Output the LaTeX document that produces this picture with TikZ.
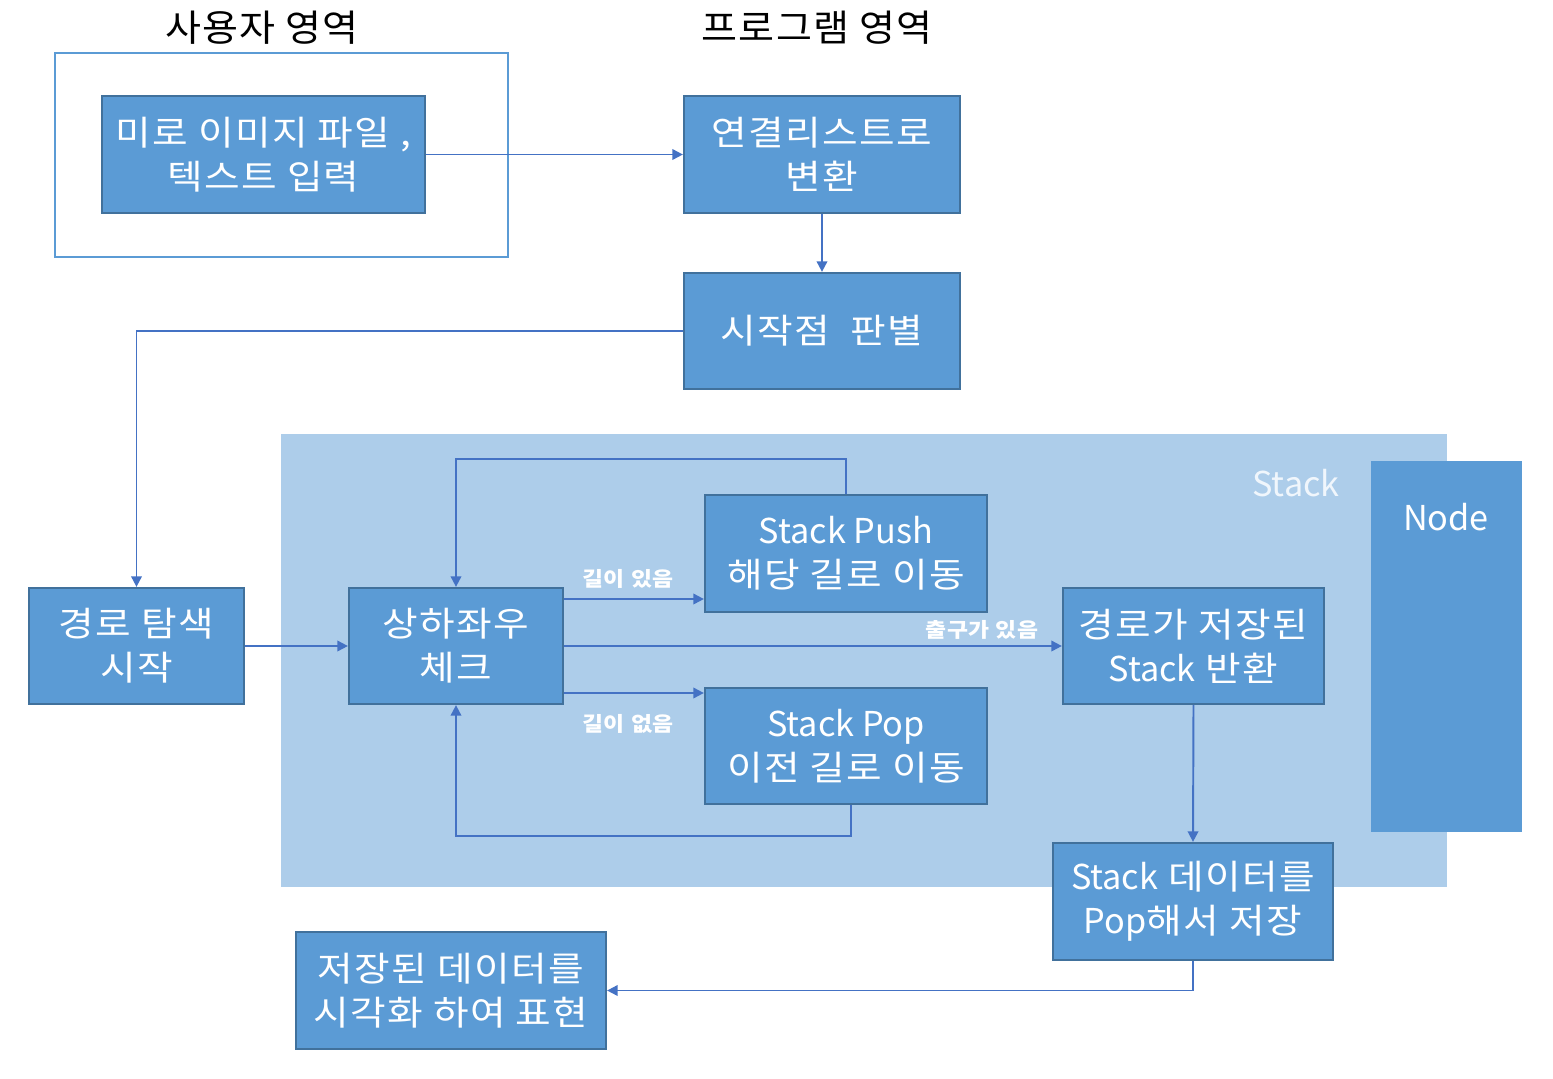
\documentclass[tikz,border=0pt]{standalone}
\usepackage{fontspec}
\setmainfont[FakeStretch=1.13, LetterSpace=4]{Noto Sans CJK KR}
\newfontfamily\latf{Noto Sans CJK KR}
\newfontfamily\ttlf[FakeStretch=1.06, LetterSpace=3]{Noto Sans CJK KR}
\usetikzlibrary{arrows.meta}
\definecolor{boxfill}{HTML}{5B9BD5}
\definecolor{boxline}{HTML}{41719C}
\definecolor{conn}{HTML}{4472C4}
\definecolor{stackbg}{HTML}{ADCDEA}
\definecolor{stacktxt}{HTML}{F0F6FC}
\tikzset{
  box/.style={draw=boxline, line width=1.3pt, fill=boxfill, text=white, align=center,
    inner sep=0pt, font=\fontsize{19.5}{25}\selectfont},
  arr/.style={draw=conn, line width=1.1pt, -{Triangle[length=6pt,width=6pt]}},
  lbl/.style={text=white, font=\bfseries\fontsize{11.5}{14}\selectfont, inner sep=0pt},
  ttl/.style={text=black, font=\ttlf\fontsize{21}{26}\selectfont, inner sep=0pt}
}
\begin{document}
\begin{tikzpicture}[x=0.02cm, y=-0.02cm]
\useasboundingbox (0,0) rectangle (1553,1079);
% regions
\fill[stackbg] (281,434) rectangle (1447,887);
\node[text=stacktxt, font=\latf\fontsize{19.5}{25}\selectfont, inner sep=0pt] (stacklbl) at (1296,483) {Stack};
\node[fill=boxfill, minimum width=3.02cm, minimum height=7.42cm, inner sep=0pt] (nodebox) at (1446.5,646.5) {};
\node[text=white, font=\latf\fontsize{19.5}{25}\selectfont, inner sep=0pt] (nodelbl) at (1446,517) {Node};
\draw[draw=boxfill, line width=0.9pt] (55,53) rectangle (508,257);
% titles
\node[ttl] (t1) at (262,28) {사용자 영역};
\node[ttl] (t2) at (817,28) {프로그램 영역};
% boxes
\node[box, minimum width=6.46cm, minimum height=2.34cm] (input) at (263.5,154.5) {미로 이미지 파일 ,\\텍스트 입력};
\node[box, minimum width=5.52cm, minimum height=2.34cm] (conv) at (822,154.5) {연결리스트로\\변환};
\node[box, minimum width=5.52cm, minimum height=2.32cm] (startpt) at (822,331) {시작점\ \ 판별};
\node[box, minimum width=4.3cm, minimum height=2.32cm] (search) at (136.5,646) {경로 탐색\\시작};
\node[box, minimum width=4.28cm, minimum height=2.32cm] (chk) at (456,646) {상하좌우\\체크};
\node[box, minimum width=5.64cm, minimum height=2.34cm] (push) at (846,553.5) {{\latf Stack Push}\\해당 길로 이동};
\node[box, minimum width=5.64cm, minimum height=2.32cm] (pop) at (846,746) {{\latf Stack Pop}\\이전 길로 이동};
\node[box, minimum width=5.22cm, minimum height=2.32cm] (ret) at (1193.5,646) {경로가 저장된\\{\latf Stack} 반환};
\node[box, minimum width=5.6cm, minimum height=2.34cm] (dpop) at (1193,901.5) {{\latf Stack} 데이터를\\{\latf Pop}해서 저장};
\node[box, minimum width=6.2cm, minimum height=2.34cm] (vis) at (451,990.5) {저장된 데이터를\\시각화 하여 표현};
% connectors
\draw[arr] (input.east) -- (conv.west);
\draw[arr] (conv.south) -- (startpt.north);
\draw[arr] (startpt.west) -| (search.north);
\draw[arr] (search.east) -- (chk.west);
\draw[arr] ([yshift=0.94cm]chk.east) -- ([yshift=0.94cm]chk.east -| push.west);
\draw[arr] (chk.east) -- (ret.west);
\draw[arr] ([yshift=-0.94cm]chk.east) -- ([yshift=-0.94cm]chk.east -| pop.west);
\draw[arr] (push.north) -- ++(0,-35) -| (chk.north);
\draw[arr] ([xshift=0.1cm]pop.south) -- ++(0,31) -| (chk.south);
\draw[arr] (ret.south) -- (dpop.north);
\draw[arr] (dpop.south) |- (vis.east);
% labels
\node[lbl] (l1) at (628,579) {길이 있음};
\node[lbl] (l2) at (982,630) {출구가 있음};
\node[lbl] (l3) at (628,724) {길이 없음};
\end{tikzpicture}
\end{document}
